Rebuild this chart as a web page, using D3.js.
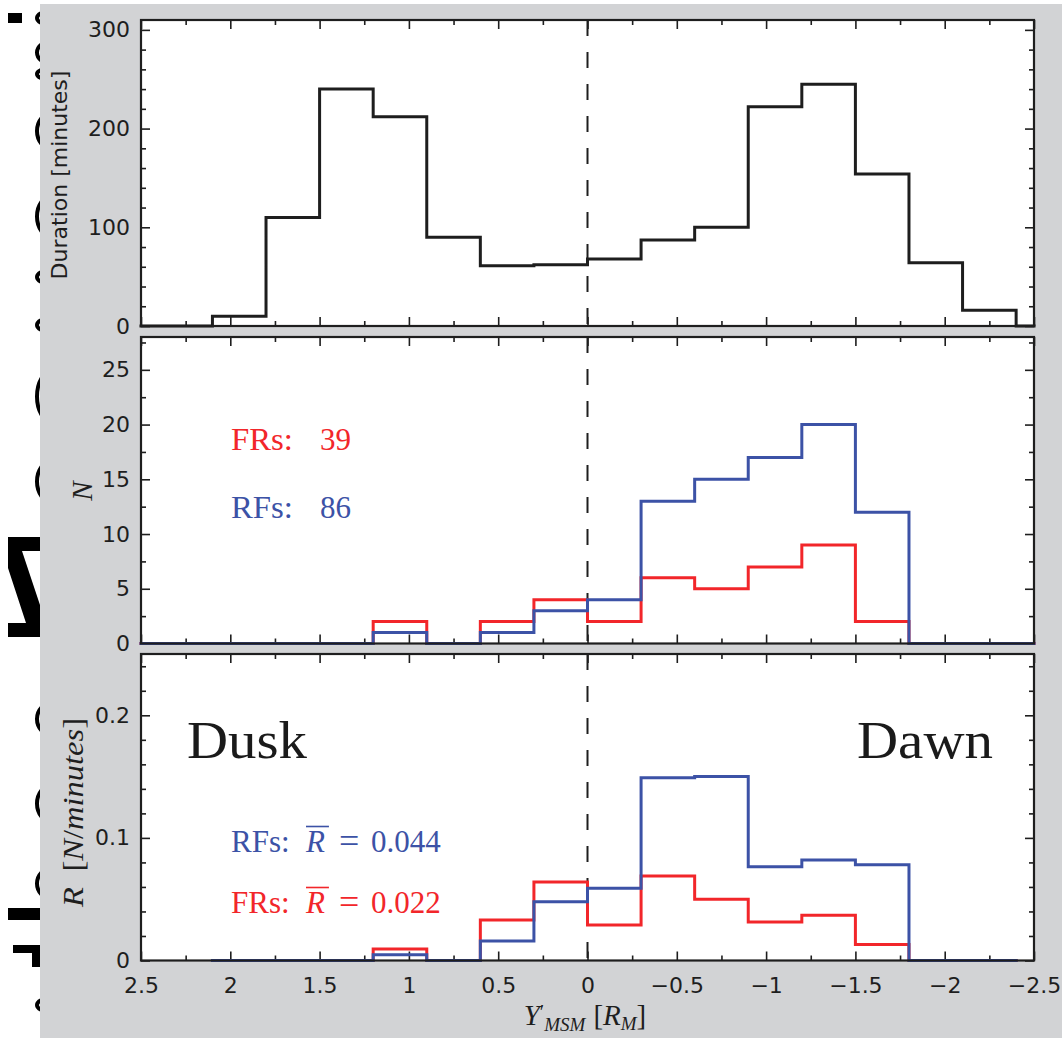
<!DOCTYPE html>
<html>
<head>
<meta charset="utf-8">
<script src="https://cdn.jsdelivr.net/npm/d3@7/dist/d3.min.js"></script>
<style>
  html, body { margin: 0; padding: 0; background: #ffffff; }
  svg { display: block; }
</style>
</head>
<body>
<script>
// ---------------- data ----------------
// bin edges along Y'_MSM [R_M]; bin i spans edges[i] -> edges[i+1]
const edges = [2.4, 2.1, 1.8, 1.5, 1.2, 0.9, 0.6, 0.3, 0, -0.3, -0.6, -0.9, -1.2, -1.5, -1.8, -2.1, -2.4];
// Duration [minutes] per bin
const duration = [0, 10, 110, 240, 212, 90, 61, 62, 68, 87, 100, 222, 245, 154, 64, 16];
// number of events per bin
const countFR = [0, 0, 0, 0, 2, 0, 2, 4, 2, 6, 5, 7, 9, 2, 0, 0];
const countRF = [0, 0, 0, 0, 1, 0, 1, 3, 4, 13, 15, 17, 20, 12, 0, 0];
// rate R [N/minutes] per bin (null = no coverage)
const rateFR = [null, 0, 0, 0, 0.0094, 0, 0.033, 0.064, 0.029, 0.069, 0.050, 0.0315, 0.037, 0.013, 0, 0];
const rateRF = [null, 0, 0, 0, 0.0047, 0, 0.016, 0.048, 0.059, 0.149, 0.150, 0.0765, 0.082, 0.078, 0, 0];
// ticks
const xMajor = [2.5, 2, 1.5, 1, 0.5, 0, -0.5, -1, -1.5, -2, -2.5];
const xMinor = [2.25, 1.75, 1.25, 0.75, 0.25, -0.25, -0.75, -1.25, -1.75, -2.25];
const y1Major = [0, 100, 200, 300];
const y1Minor = [20, 40, 60, 80, 120, 140, 160, 180, 220, 240, 260, 280];
const y2Major = [0, 5, 10, 15, 20, 25];
const y2Minor = [2.5, 7.5, 12.5, 17.5, 22.5, 27.5];
const y3Major = [0, 0.1, 0.2];
const y3Minor = [0.02, 0.04, 0.06, 0.08, 0.12, 0.14, 0.16, 0.18, 0.22, 0.24];
const totals = { FRs: 39, RFs: 86 };
const meanRate = { RFs: "0.044", FRs: "0.022" };

// ---------------- styles ----------------
const W = 1062, H = 1038;
const RED = "#f2262a", BLUE = "#3c52a6", INK = "#1e1e1e";
const SANS = "'DejaVu Sans', sans-serif";
const SERIF = "'Liberation Serif', 'Times New Roman', serif";

const svg = d3.select("body").append("svg").attr("width", W).attr("height", H);

// backgrounds
svg.append("rect").attr("x", 0).attr("y", 0).attr("width", W).attr("height", H).attr("fill", "#ffffff");
svg.append("rect").attr("x", 40).attr("y", 4).attr("width", W - 40).attr("height", H - 4).attr("fill", "#d2d3d5");

// cropped glyph fragments at the left margin
const defs = svg.append("defs");
defs.append("clipPath").attr("id", "leftclip").append("rect").attr("x", 0).attr("y", 0).attr("width", 40).attr("height", H);
const frag = svg.append("g").attr("clip-path", "url(#leftclip)").attr("fill", "#000");
frag.append("rect").attr("x", 8).attr("y", 13).attr("width", 14).attr("height", 10);
[[13, 23], [43, 62], [70, 78], [115, 147], [198, 235], [272, 282], [320, 330], [373, 420], [463, 500],
 [705, 733], [787, 820], [870, 897], [1000, 1010]].forEach(([a, b]) => {
  frag.append("ellipse").attr("cx", 52).attr("cy", (a + b) / 2).attr("rx", 15).attr("ry", (b - a) / 2 + 2)
    .attr("fill", "none").attr("stroke", "#000").attr("stroke-width", 4);
});
frag.append("path").attr("d", "M8,537 L40,537 L40,551 L22,551 L40,605 L40,637 L8,637 L8,623 L26,623 L8,568 Z");
frag.append("rect").attr("x", 8).attr("y", 908).attr("width", 32).attr("height", 12);
frag.append("path").attr("d", "M13,945 L40,945 L40,967 L32,967 L32,953 L13,953 Z");

// ---------------- scales ----------------
const x = d3.scaleLinear().domain([2.5, -2.5]).range([141, 1034]);
const panels = [
  { y: d3.scaleLinear().domain([0, 310]).range([326, 20]), major: y1Major, minor: y1Minor, fmt: d3.format("d") },
  { y: d3.scaleLinear().domain([0, 28]).range([643.5, 337]), major: y2Major, minor: y2Minor, fmt: d3.format("d") },
  { y: d3.scaleLinear().domain([0, 0.25]).range([960.5, 654]), major: y3Major, minor: y3Minor, fmt: d3.format("~g") }
];

function styleAxis(g) {
  g.select(".domain").remove();
  g.selectAll(".tick line").attr("stroke", INK).attr("stroke-width", 1.6);
  g.selectAll(".tick text").attr("fill", INK).attr("font-family", SANS).attr("font-size", 22);
}

panels.forEach((p, i) => {
  const [y0, y1] = p.y.range();
  const g = svg.append("g");
  g.append("rect").attr("x", x.range()[0]).attr("y", y1).attr("width", x.range()[1] - x.range()[0])
    .attr("height", y0 - y1).attr("fill", "#ffffff");

  g.append("g").attr("transform", `translate(${x.range()[0]},0)`)
    .call(d3.axisLeft(p.y).tickValues(p.major).tickSize(-9).tickPadding(11).tickFormat(p.fmt)).call(styleAxis);
  g.append("g").attr("transform", `translate(${x.range()[0]},0)`)
    .call(d3.axisLeft(p.y).tickValues(p.minor).tickSize(-5).tickFormat("")).call(styleAxis);
  g.append("g").attr("transform", `translate(${x.range()[1]},0)`)
    .call(d3.axisRight(p.y).tickValues(p.major).tickSize(-9).tickFormat("")).call(styleAxis);
  g.append("g").attr("transform", `translate(${x.range()[1]},0)`)
    .call(d3.axisRight(p.y).tickValues(p.minor).tickSize(-5).tickFormat("")).call(styleAxis);
  g.append("g").attr("transform", `translate(0,${y1})`)
    .call(d3.axisTop(x).tickValues(xMajor).tickSize(-9).tickFormat("")).call(styleAxis);
  g.append("g").attr("transform", `translate(0,${y1})`)
    .call(d3.axisTop(x).tickValues(xMinor).tickSize(-5).tickFormat("")).call(styleAxis);
  g.append("g").attr("transform", `translate(0,${y0})`)
    .call(d3.axisBottom(x).tickValues(xMajor).tickSize(-9).tickPadding(17)
      .tickFormat(i === 2 ? d3.format("~g") : "")).call(styleAxis);
  g.append("g").attr("transform", `translate(0,${y0})`)
    .call(d3.axisBottom(x).tickValues(xMinor).tickSize(-5).tickFormat("")).call(styleAxis);

  g.append("line").attr("x1", x(0)).attr("x2", x(0)).attr("y1", y1).attr("y2", y0)
    .attr("stroke", INK).attr("stroke-width", 2).attr("stroke-dasharray", "16,16");

  p.g = g;
});

// ---------------- histograms ----------------
function fullSteps(vals) {
  const pts = [{ x: 2.5, v: 0 }];
  vals.forEach((v, i) => pts.push({ x: edges[i], v }));
  pts.push({ x: edges[edges.length - 1], v: 0 });
  pts.push({ x: -2.5, v: 0 });
  return pts;
}
function coveredSteps(vals) {
  const pts = vals.map((v, i) => ({ x: edges[i], v }));
  pts.push({ x: edges[edges.length - 1], v: vals[vals.length - 1] });
  return pts;
}
function drawStep(p, pts, color) {
  const line = d3.line().defined(d => d.v !== null).x(d => x(d.x)).y(d => p.y(d.v)).curve(d3.curveStepAfter);
  p.g.append("path").datum(pts).attr("d", line).attr("fill", "none").attr("stroke", color)
    .attr("stroke-width", 3).attr("stroke-linejoin", "miter").attr("stroke-linecap", "square");
}
drawStep(panels[0], fullSteps(duration), INK);
drawStep(panels[1], fullSteps(countFR), RED);
drawStep(panels[1], fullSteps(countRF), BLUE);
drawStep(panels[2], coveredSteps(rateFR), RED);
drawStep(panels[2], coveredSteps(rateRF), BLUE);

panels.forEach(p => {
  const [y0, y1] = p.y.range();
  p.g.append("rect").attr("x", x.range()[0]).attr("y", y1).attr("width", x.range()[1] - x.range()[0])
    .attr("height", y0 - y1).attr("fill", "none").attr("stroke", INK).attr("stroke-width", 2.2);
});

// ---------------- axis titles ----------------
svg.append("text").attr("transform", "translate(67,175) rotate(-90)").attr("text-anchor", "middle")
  .attr("font-family", SANS).attr("font-size", 22).attr("fill", INK).text("Duration [minutes]");

svg.append("text").attr("transform", "translate(92,491) rotate(-90)").attr("text-anchor", "middle")
  .attr("font-family", SERIF).attr("font-style", "italic").attr("font-size", 29).attr("fill", INK).text("N");

const rl = svg.append("text").attr("transform", "translate(83,907) rotate(-90)").attr("text-anchor", "start")
  .attr("font-family", SERIF).attr("font-size", 29).attr("fill", INK)
  .attr("textLength", 189).attr("lengthAdjust", "spacingAndGlyphs");
rl.append("tspan").attr("font-style", "italic").text("R");
rl.append("tspan").attr("dx", 14).text("[");
rl.append("tspan").attr("font-style", "italic").text("N");
rl.append("tspan").text("/");
rl.append("tspan").attr("font-style", "italic").text("minutes");
rl.append("tspan").text("]");

const xl = svg.append("text").attr("x", 585).attr("y", 1025).attr("text-anchor", "middle")
  .attr("font-family", SERIF).attr("font-size", 29).attr("fill", INK);
xl.append("tspan").attr("font-style", "italic").text("Y");
xl.append("tspan").attr("font-size", 20).attr("dy", -6).text("′");
xl.append("tspan").attr("font-style", "italic").attr("font-size", 19).attr("dy", 12).text("MSM");
xl.append("tspan").attr("dy", -6).attr("dx", 8).text("[");
xl.append("tspan").attr("font-style", "italic").text("R");
xl.append("tspan").attr("font-style", "italic").attr("font-size", 19).attr("dy", 5).text("M");
xl.append("tspan").attr("dy", -5).text("]");

// ---------------- annotations ----------------
function label(xp, yp, txt, color, size, len) {
  const t = svg.append("text").attr("x", xp).attr("y", yp).attr("font-family", SERIF)
    .attr("font-size", size).attr("fill", color).text(txt);
  if (len) t.attr("textLength", len).attr("lengthAdjust", "spacingAndGlyphs");
  return t;
}
label(231, 450, "FRs:", RED, 31, 62);
label(320, 450, String(totals.FRs), RED, 31, 31);
label(231, 518, "RFs:", BLUE, 31, 62);
label(320, 518, String(totals.RFs), BLUE, 31, 31);

label(187, 758, "Dusk", "#1a1a1a", 53, 120);
label(857, 758, "Dawn", "#1a1a1a", 53, 136);

function rateLabel(yp, name, color) {
  const t = svg.append("text").attr("y", yp).attr("font-family", SERIF).attr("font-size", 31).attr("fill", color);
  t.append("tspan").attr("x", 231).text(name + ":");
  const r = t.append("tspan").attr("x", 306).attr("font-style", "italic").text("R");
  t.append("tspan").attr("x", 339).attr("font-size", 36).attr("dy", 1).text("=");
  t.append("tspan").attr("x", 371).attr("dy", -1).text(meanRate[name]);
  const rlen = r.node().getComputedTextLength();
  svg.append("line").attr("x1", 306).attr("x2", 306 + rlen + 4).attr("y1", yp - 25.5).attr("y2", yp - 25.5)
    .attr("stroke", color).attr("stroke-width", 1.6);
}
rateLabel(852, "RFs", BLUE);
rateLabel(913, "FRs", RED);
</script>
</body>
</html>
